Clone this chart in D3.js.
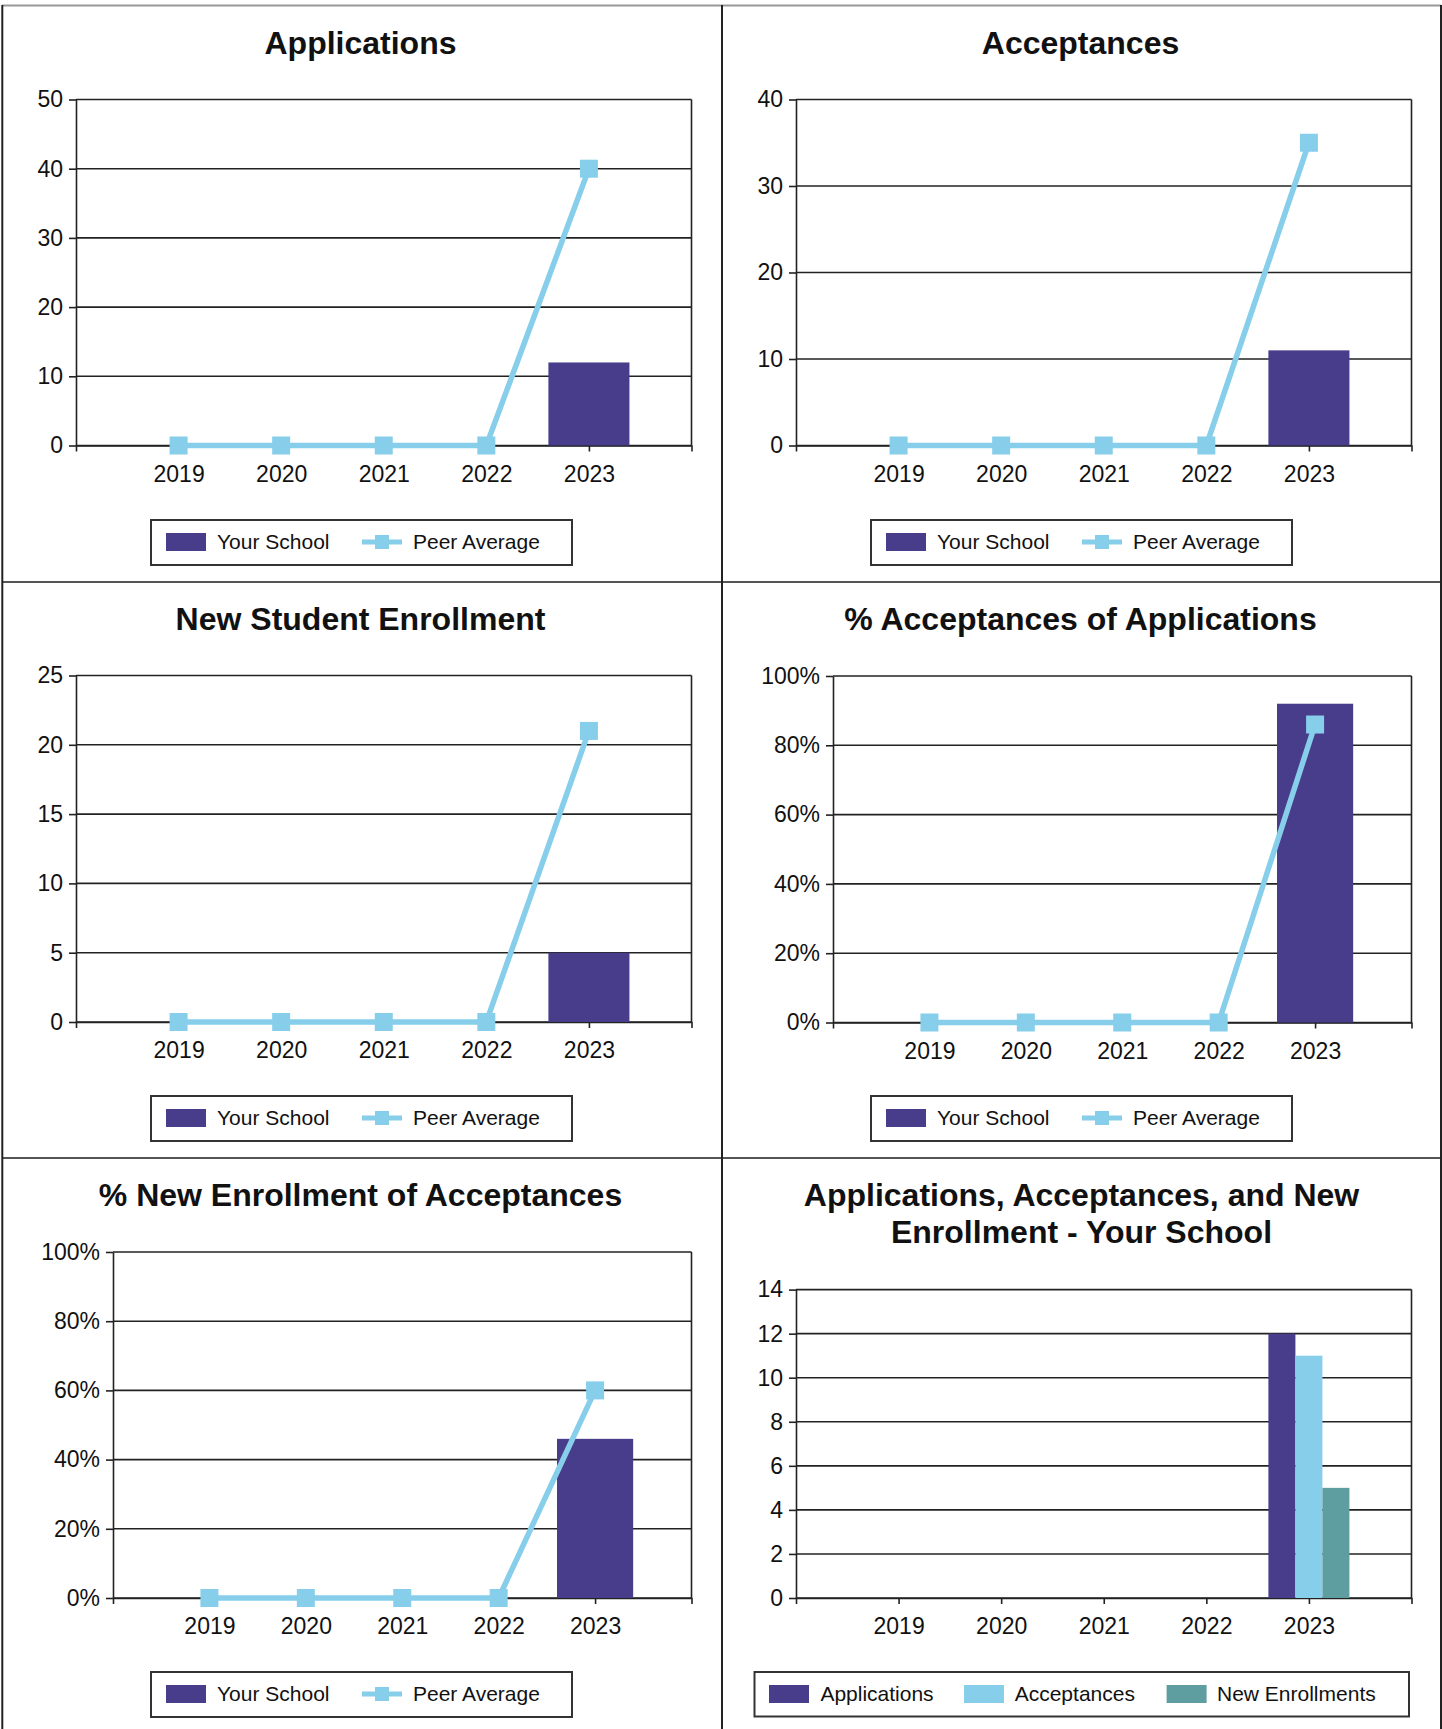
<!DOCTYPE html>
<html><head><meta charset="utf-8">
<script src="https://cdn.jsdelivr.net/npm/d3@7"></script>
<style>
body{margin:0;background:#fff}
svg{display:block}
text{font-family:"Liberation Sans",Arial,Helvetica,sans-serif}
</style>
</head><body>
<svg id="chart" width="1442" height="1729"></svg>
<script>
// ---------- data ----------
const years = ["2019", "2020", "2021", "2022", "2023"];

const applicationsSchool = [0, 0, 0, 0, 12];
const applicationsPeer   = [0, 0, 0, 0, 40];
const applicationsTicks  = [0, 10, 20, 30, 40, 50];

const acceptancesSchool = [0, 0, 0, 0, 11];
const acceptancesPeer   = [0, 0, 0, 0, 35];
const acceptancesTicks  = [0, 10, 20, 30, 40];

const enrollmentSchool = [0, 0, 0, 0, 5];
const enrollmentPeer   = [0, 0, 0, 0, 21];
const enrollmentTicks  = [0, 5, 10, 15, 20, 25];

const pctAcceptSchool = [0, 0, 0, 0, 92];
const pctAcceptPeer   = [0, 0, 0, 0, 86];
const pctEnrollSchool = [0, 0, 0, 0, 46];
const pctEnrollPeer   = [0, 0, 0, 0, 60];
const pctTicks        = [0, 20, 40, 60, 80, 100];

const schoolApplications = [0, 0, 0, 0, 12];
const schoolAcceptances  = [0, 0, 0, 0, 11];
const schoolEnrollments  = [0, 0, 0, 0, 5];
const schoolTicks        = [0, 2, 4, 6, 8, 10, 12, 14];
const schoolSeriesNames  = ["Applications", "Acceptances", "New Enrollments"];

const comboLegend = ["Your School", "Peer Average"];

// ---------- styles ----------
const PURPLE = "#483D8B", SKY = "#87CEEB", TEAL = "#5F9EA0", INK = "#111";
const FONT = '"Liberation Sans", Arial, Helvetica, sans-serif';

const svg = d3.select("#chart");

// panel frame lines
const frame = svg.append("g");
frame.append("line").attr("x1", 2).attr("x2", 1441).attr("y1", 5.5).attr("y2", 5.5).attr("stroke", "#999").attr("stroke-width", 2);
[582, 1158].forEach(yy => frame.append("line").attr("x1", 2).attr("x2", 1441).attr("y1", yy).attr("y2", yy).attr("stroke", "#555").attr("stroke-width", 2));
[2.3, 722, 1441].forEach(xx => frame.append("line").attr("x1", xx).attr("x2", xx).attr("y1", 5).attr("y2", 1729).attr("stroke", "#222").attr("stroke-width", 2));

function addTitle(g, lines, cx) {
  lines.forEach((t, i) => {
    g.append("text").attr("x", cx).attr("y", 54 + i * 37).attr("text-anchor", "middle")
      .attr("font-size", 32).attr("font-weight", "bold").attr("fill", INK).text(t);
  });
}

function axes(g, o) {
  const x = d3.scalePoint().domain(years).range([o.left, o.right]).padding(1);
  const y = d3.scaleLinear().domain([0, d3.max(o.ticks)]).range([o.bottom, o.top]);
  // gridlines
  g.append("g").selectAll("line").data(o.ticks).join("line")
    .attr("x1", o.left).attr("x2", o.right)
    .attr("y1", d => y(d)).attr("y2", d => y(d))
    .attr("stroke", "#222").attr("stroke-width", 1.6);
  // right border
  g.append("line").attr("x1", o.right).attr("x2", o.right).attr("y1", o.top).attr("y2", o.bottom)
    .attr("stroke", "#222").attr("stroke-width", 1.6);
  // y axis
  const ya = g.append("g").attr("transform", `translate(${o.left},0)`)
    .call(d3.axisLeft(y).tickValues(o.ticks).tickFormat(o.fmt).tickSize(7).tickSizeOuter(0).tickPadding(6));
  ya.attr("font-size", 23).attr("font-family", FONT);
  ya.selectAll("path,line").attr("stroke", "#222").attr("stroke-width", 1.6);
  ya.selectAll("text").attr("fill", INK);
  // x axis
  const xa = g.append("g").attr("transform", `translate(0,${o.bottom})`)
    .call(d3.axisBottom(x).tickSize(6).tickSizeOuter(6).tickPadding(14));
  xa.attr("font-size", 23).attr("font-family", FONT);
  xa.selectAll("path,line").attr("stroke", "#222").attr("stroke-width", 1.6);
  xa.selectAll("text").attr("fill", INK);
  return { x, y };
}

function comboLegendBox(g) {
  g.append("rect").attr("x", 151).attr("y", 520).attr("width", 421).attr("height", 45)
    .attr("fill", "#fff").attr("stroke", "#333").attr("stroke-width", 2);
  g.append("rect").attr("x", 166).attr("y", 533).attr("width", 40).attr("height", 18).attr("fill", PURPLE);
  g.append("text").attr("x", 217).attr("y", 549).attr("font-size", 21).attr("fill", INK).text(comboLegend[0]);
  g.append("line").attr("x1", 362).attr("x2", 402).attr("y1", 542).attr("y2", 542).attr("stroke", SKY).attr("stroke-width", 5);
  g.append("rect").attr("x", 375).attr("y", 535).attr("width", 14).attr("height", 14).attr("fill", SKY);
  g.append("text").attr("x", 413).attr("y", 549).attr("font-size", 21).attr("fill", INK).text(comboLegend[1]);
}

function combo(px, py, title, school, peer, ticks, fmt, left, top, bottom) {
  const g = svg.append("g").attr("transform", `translate(${px},${py})`);
  addTitle(g, [title], 360.5);
  const o = { left, right: 691.5, top, bottom, ticks, fmt };
  const { x, y } = axes(g, o);
  const bw = x.step() * 0.79;
  g.append("g").selectAll("rect").data(years.map((d, i) => ({ year: d, v: school[i] })).filter(d => d.v > 0))
    .join("rect")
    .attr("x", d => x(d.year) - bw / 2).attr("width", bw)
    .attr("y", d => y(d.v)).attr("height", d => y(0) - y(d.v))
    .attr("fill", PURPLE);
  const pts = years.map((d, i) => ({ year: d, v: peer[i] }));
  g.append("path").datum(pts)
    .attr("d", d3.line().x(d => x(d.year)).y(d => y(d.v)))
    .attr("fill", "none").attr("stroke", SKY).attr("stroke-width", 5.5).attr("stroke-linejoin", "round");
  const m = 18;
  g.append("g").selectAll("rect").data(pts).join("rect")
    .attr("x", d => x(d.year) - m / 2).attr("y", d => y(d.v) - m / 2)
    .attr("width", m).attr("height", m).attr("fill", SKY);
  comboLegendBox(g);
}

const countFmt = d => d;
const pctFmt = d => d + "%";

combo(0, 0, "Applications", applicationsSchool, applicationsPeer, applicationsTicks, countFmt, 76, 99.5, 445.5);
combo(720, 0, "Acceptances", acceptancesSchool, acceptancesPeer, acceptancesTicks, countFmt, 76, 99.5, 445.5);
combo(0, 576, "New Student Enrollment", enrollmentSchool, enrollmentPeer, enrollmentTicks, countFmt, 76, 99.5, 446);
combo(720, 576, "% Acceptances of Applications", pctAcceptSchool, pctAcceptPeer, pctTicks, pctFmt, 113, 100, 446.5);
combo(0, 1152, "% New Enrollment of Acceptances", pctEnrollSchool, pctEnrollPeer, pctTicks, pctFmt, 113, 100, 446);

// ---------- panel 6: grouped bars ----------
(function () {
  const g = svg.append("g").attr("transform", `translate(720,1152)`);
  addTitle(g, ["Applications, Acceptances, and New", "Enrollment - Your School"], 361.5);
  const o = { left: 76, right: 691.5, top: 137.6, bottom: 446, ticks: schoolTicks, fmt: countFmt };
  const { x, y } = axes(g, o);
  const bw = x.step() * 0.79;
  const sub = d3.scaleBand().domain(schoolSeriesNames).range([-bw / 2, bw / 2]);
  const colors = [PURPLE, SKY, TEAL];
  const series = [schoolApplications, schoolAcceptances, schoolEnrollments];
  const data = [];
  years.forEach((yr, i) => series.forEach((s, k) => { if (s[i] > 0) data.push({ yr, k, v: s[i] }); }));
  g.append("g").selectAll("rect").data(data).join("rect")
    .attr("x", d => x(d.yr) + sub(schoolSeriesNames[d.k])).attr("width", sub.bandwidth())
    .attr("y", d => y(d.v)).attr("height", d => y(0) - y(d.v))
    .attr("fill", d => colors[d.k]);
  // legend
  g.append("rect").attr("x", 34.5).attr("y", 520).attr("width", 654.5).attr("height", 44.5)
    .attr("fill", "#fff").attr("stroke", "#333").attr("stroke-width", 2);
  const sw = [49, 244, 446.6], tx = [100.4, 294.7, 497];
  schoolSeriesNames.forEach((n, k) => {
    g.append("rect").attr("x", sw[k]).attr("y", 533).attr("width", 40).attr("height", 18).attr("fill", colors[k]);
    g.append("text").attr("x", tx[k]).attr("y", 549).attr("font-size", 21).attr("fill", INK).text(n);
  });
})();
</script>
</body></html>
